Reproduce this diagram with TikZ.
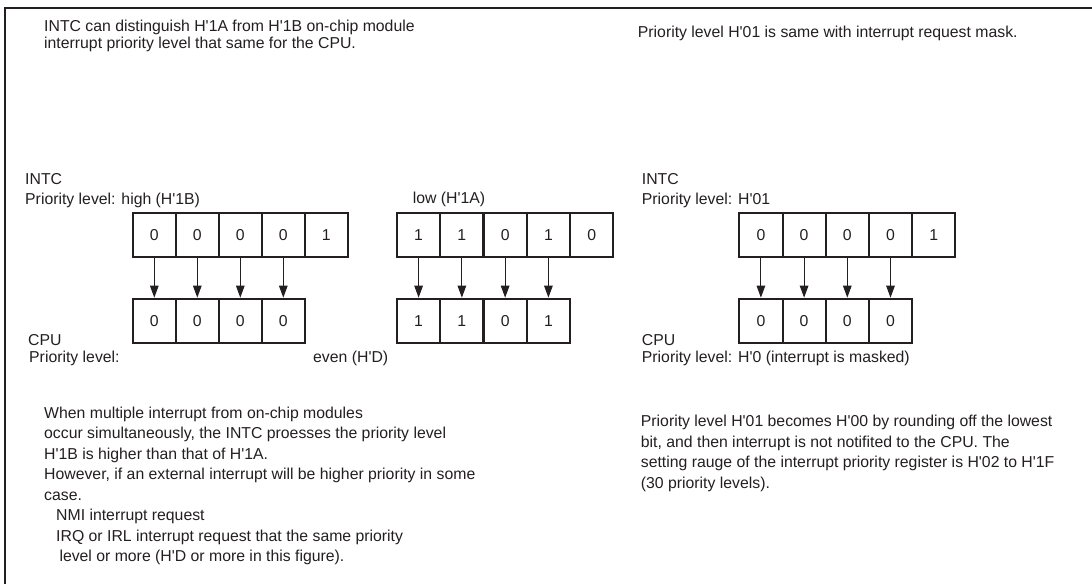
\documentclass[tikz,border=0pt]{standalone}
\usepackage{fontspec}
\setmainfont{Liberation Sans}[Ligatures=TeXOff]
\usetikzlibrary{arrows.meta}
\definecolor{ink}{RGB}{35,31,32}
\begin{document}
\begin{tikzpicture}[x=1pt,y=-1pt,
  txt/.style={anchor=base west, inner sep=0pt, text=ink, font=\fontsize{15.8}{20}\selectfont},
  cell/.style={draw=ink, line width=2pt, minimum width=43.2pt, minimum height=44pt, inner sep=0pt, anchor=north west, text=ink, font=\fontsize{15.8}{20}\selectfont},
  link/.style={draw=ink, line width=1.1pt, -{Triangle[length=12pt,width=8.5pt]}}
]
\useasboundingbox (0,0) rectangle (1092,584);
% frame
\draw[ink, line width=2.5pt] (5,584) -- (5,8) -- (1092,8);
% top texts
\node[txt] (tl1) at (44,31.7) {INTC can distinguish H'1A from H'1B on-chip module};
\node[txt] (tl2) at (44,48.5) {interrupt priority level that same for the CPU.};
\node[txt] (tr1) at (637.7,37.7) {Priority level H'01 is same with interrupt request mask.};
% left group labels
\node[txt] (la1) at (25,184) {INTC};
\node[txt] (la2) at (25,204) {Priority level: high (H'1B)};
\node[txt] (la3) at (28,345) {CPU};
\node[txt] (la4) at (29,362) {Priority level:};
\node[txt] (la5) at (313,362) {even (H'D)};
\node[txt] (lb1) at (412.7,203) {low (H'1A)};
% right group labels
\node[txt] (lc1) at (641.7,184) {INTC};
\node[txt] (lc2) at (641.7,204) {Priority level: H'01};
\node[txt] (lc3) at (641.7,345) {CPU};
\node[txt] (lc4) at (641.7,362) {Priority level: H'0 (interrupt is masked)};
% cells group A
\foreach \v [count=\i] in {0,0,0,0,1}
  \node[cell] (a\i) at ({131.7+43*(\i-1)},211.7) {\v};
\foreach \v [count=\i] in {0,0,0,0}
  \node[cell] (aa\i) at ({131.7+43*(\i-1)},297.7) {\v};
% cells group B
\foreach \v [count=\i] in {1,1,0,1,0}
  \node[cell] (b\i) at ({396+43.27*(\i-1)},211.7) {\v};
\foreach \v [count=\i] in {1,1,0,1}
  \node[cell] (bb\i) at ({396+43.27*(\i-1)},297.7) {\v};
% cells group C
\foreach \v [count=\i] in {0,0,0,0,1}
  \node[cell] (c\i) at ({738.3+43.2*(\i-1)},211.7) {\v};
\foreach \v [count=\i] in {0,0,0,0}
  \node[cell] (cc\i) at ({738.3+43.2*(\i-1)},297.7) {\v};
% arrows
\foreach \i in {1,...,4} {
  \draw[link] (a\i.south) -- (aa\i.north);
  \draw[link] (b\i.south) -- (bb\i.north);
  \draw[link] (c\i.south) -- (cc\i.north);
}
% bottom left text
\node[txt] (bl1) at (44,418) {When multiple interrupt from on-chip modules};
\node[txt] (bl2) at (44,438.5) {occur simultaneously, the INTC proesses the priority level};
\node[txt] (bl3) at (44,459) {H'1B is higher than that of H'1A.};
\node[txt] (bl4) at (44,479.5) {However, if an external interrupt will be higher priority in some};
\node[txt] (bl5) at (44,500) {case.};
\node[txt] (bl6) at (56,520.5) {NMI interrupt request};
\node[txt] (bl7) at (56,541) {IRQ or IRL interrupt request that the same priority};
\node[txt] (bl8) at (59.3,561.5) {level or more (H'D or more in this figure).};
% bottom right text
\node[txt] (br1) at (640.7,426.7) {Priority level H'01 becomes H'00 by rounding off the lowest};
\node[txt] (br2) at (640.7,447.3) {bit, and then interrupt is not notifited to the CPU. The};
\node[txt] (br3) at (640.7,467.9) {setting rauge of the interrupt priority register is H'02 to H'1F};
\node[txt] (br4) at (640.7,488.5) {(30 priority levels).};
\end{tikzpicture}
\end{document}
